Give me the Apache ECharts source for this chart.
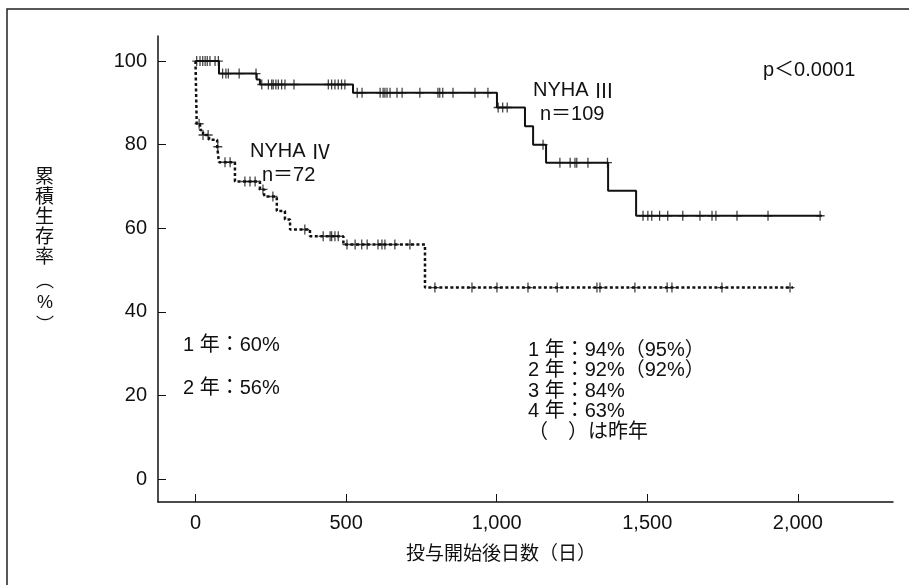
<!DOCTYPE html>
<html>
<head>
<meta charset="utf-8">
<script src="https://cdn.jsdelivr.net/npm/echarts@6/dist/echarts.min.js"></script>
<style>
html, body { margin: 0; background: #fff; }
#chart { width: 909px; height: 585px; }
</style>
</head>
<body>
<div id="chart"></div>
<script>
// 軸の目盛り
var xTicks = [0, 500, 1000, 1500, 2000];
var yTicks = [0, 20, 40, 60, 80, 100];

// NYHA III : [日数, 生存率]
var nyha3Steps = [[0, 100], [78, 97], [203, 95.6], [214, 94.4], [523, 92.4], [1001, 88.9],
  [1094, 84.4], [1121, 80], [1164, 75.7], [1370, 69], [1463, 63], [2080, 63]];
var nyha3Censored = [4, 15, 24, 32, 39, 48, 65, 76, 90, 101, 109, 145, 201, 220, 242, 253, 258,
  267, 275, 286, 297, 327, 441, 452, 463, 474, 485, 496, 537, 553, 613, 623, 629, 636, 646, 669,
  686, 745, 805, 811, 821, 855, 928, 971, 1005, 1020, 1035, 1154, 1210, 1244, 1260, 1266, 1303,
  1368, 1486, 1502, 1515, 1541, 1568, 1618, 1675, 1715, 1728, 1798, 1901, 2074];

// NYHA IV
var nyha4Steps = [[0, 100], [4, 85], [15, 83.5], [25, 82.3], [45, 81.2], [72, 79.5], [78, 75.8],
  [131, 71.2], [214, 69.3], [228, 67.6], [270, 64.1], [297, 62.1], [314, 59.7], [380, 58.1],
  [491, 56.1], [762, 45.8], [1984, 45.8]];
var nyha4Censored = [12, 25, 42, 74, 98, 115, 164, 181, 198, 224, 257, 363, 424, 447, 452, 463,
  474, 503, 530, 552, 570, 606, 619, 629, 662, 712, 795, 918, 1001, 1104, 1201, 1333, 1343, 1459,
  1566, 1582, 1748, 1974];

var leftNotes = ['1 年：60%', '2 年：56%'];
var rightNotes = ['1 年：94%（95%）', '2 年：92%（92%）', '3 年：84%', '4 年：63%', '（　）は昨年'];

var FONT = "'Liberation Sans', 'Noto Sans CJK JP', sans-serif";
var INK = '#111';
var cross = 'path://M0,4.3H10V5.7H0ZM4.3,0H5.7V10H4.3Z';

// 打ち切り時点の生存率を階段関数から取る
function levelAt(steps, d) {
  var v = steps[0][1];
  for (var i = 0; i < steps.length; i++) {
    if (steps[i][0] <= d) v = steps[i][1];
  }
  return v;
}
function censorPoints(steps, days) {
  return days.map(function (d) { return [d, levelAt(steps, d)]; });
}
function comma(v) {
  return String(v).replace(/\B(?=(\d{3})+(?!\d))/g, ',');
}

function txt(x, y, s, extra) {
  var st = {
    text: s, fill: INK, font: '20px ' + FONT, textVerticalAlign: 'middle',
    rich: { r: { fontFamily: 'Noto Sans CJK JP', fontSize: 20, fill: INK } }
  };
  for (var k in extra) st[k] = extra[k];
  return { type: 'text', left: x, top: y, style: st, silent: true };
}
function glyph(x, y, s, fam) {
  return {
    type: 'text', x: x, y: y, silent: true,
    style: { text: s, fill: INK, font: '18px ' + (fam || FONT), align: 'center', verticalAlign: 'middle' }
  };
}

var graphics = [
  { type: 'rect', shape: { x: 7, y: 9, width: 940, height: 620 },
    style: { fill: 'none', stroke: '#222', lineWidth: 1.5 }, silent: true },
  { type: 'text', left: 35, top: 168,
    style: { text: '累\n積\n生\n存\n率', fill: INK, font: '19px ' + FONT, lineHeight: 20 } },
  glyph(45, 280, '︵', "'Noto Sans CJK JP'"),
  glyph(45, 303, '%'),
  glyph(45, 324, '︶', "'Noto Sans CJK JP'"),
  txt(763, 60, 'p＜0.0001'),
  txt(533, 80, 'NYHA {r|Ⅲ}'),
  txt(540, 104, 'n＝109'),
  txt(250, 141, 'NYHA {r|Ⅳ}'),
  txt(262, 165, 'n＝72'),
  {
    type: 'text', x: 501, y: 555, silent: true,
    style: { text: '投与開始後日数（日）', fill: INK, font: '19px ' + FONT, align: 'center', verticalAlign: 'middle' }
  }
];
leftNotes.forEach(function (s, i) {
  graphics.push(txt(183, 335 + i * 43, s));
});
rightNotes.forEach(function (s, i) {
  graphics.push(txt(528, 340 + i * 20.5, s));
});

var chart = echarts.init(document.getElementById('chart'));
chart.setOption({
  animation: false,
  backgroundColor: '#fff',
  textStyle: { fontFamily: FONT },
  grid: { left: 158, right: 16, top: 36, bottom: 83 },
  xAxis: {
    type: 'value',
    min: -124.5,
    max: 2316,
    axisLine: { onZero: false, lineStyle: { color: INK, width: 1.5 } },
    axisTick: { inside: true, length: 8, customValues: xTicks, lineStyle: { color: INK } },
    axisLabel: { customValues: xTicks, color: INK, fontSize: 20, margin: 11, formatter: comma },
    splitLine: { show: false }
  },
  yAxis: {
    type: 'value',
    min: -5.5,
    max: 106,
    axisLine: { show: true, onZero: false, lineStyle: { color: INK, width: 1.5 } },
    axisTick: { show: true, inside: true, length: 8, customValues: yTicks, lineStyle: { color: INK } },
    axisLabel: { customValues: yTicks, color: INK, fontSize: 20, margin: 11 },
    splitLine: { show: false }
  },
  series: [
    {
      name: 'NYHA III', type: 'line', step: 'end', data: nyha3Steps,
      showSymbol: false, lineStyle: { color: INK, width: 2 }
    },
    {
      name: 'NYHA IV', type: 'line', step: 'end', data: nyha4Steps,
      showSymbol: false, lineStyle: { color: INK, width: 2.5, type: [3, 2.5] }
    },
    {
      type: 'scatter', data: censorPoints(nyha3Steps, nyha3Censored),
      symbol: cross, symbolSize: [9, 10], itemStyle: { color: INK }
    },
    {
      type: 'scatter', data: censorPoints(nyha4Steps, nyha4Censored),
      symbol: cross, symbolSize: [9, 10], itemStyle: { color: INK }
    }
  ],
  graphic: graphics
});
</script>
</body>
</html>
